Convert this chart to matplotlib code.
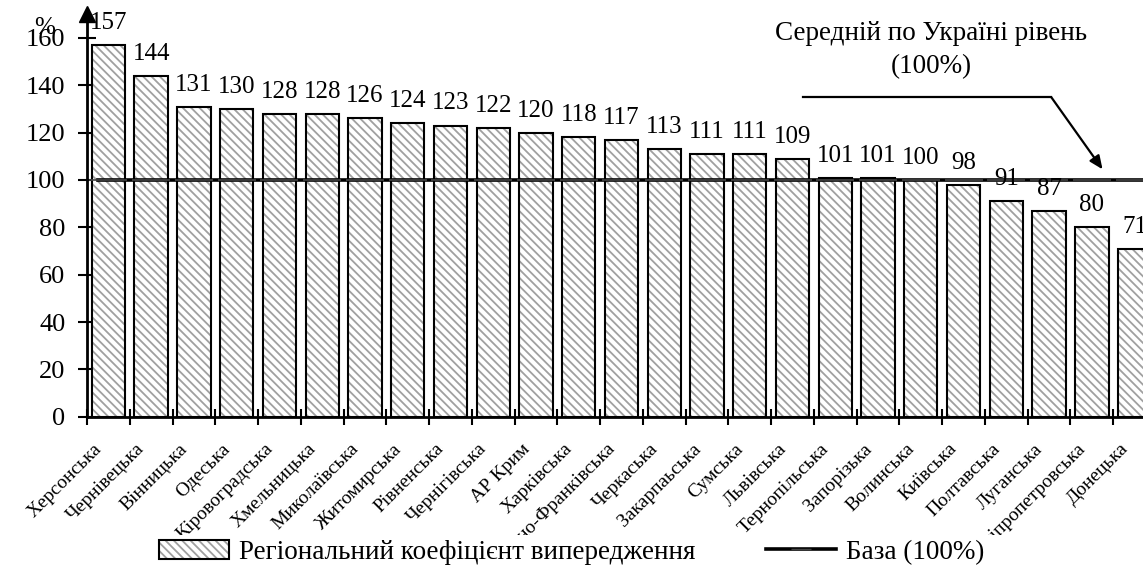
import numpy as np
import matplotlib
matplotlib.use("Agg")
import matplotlib.pyplot as plt
import matplotlib.transforms as mtransforms
from matplotlib.lines import Line2D

plt.rcParams["font.family"] = ["Liberation Serif", "DejaVu Serif"]
plt.rcParams["hatch.linewidth"] = 1.3

regions = ["Херсонська", "Чернівецька", "Вінницька", "Одеська", "Кіровоградська",
           "Хмельницька", "Миколаївська", "Житомирська", "Рівненська", "Чернігівська",
           "АР Крим", "Харківська", "Івано-Франківська", "Черкаська", "Закарпаьська",
           "Сумська", "Львівська", "Тернопільська", "Запорізька", "Волинська",
           "Київська", "Полтавська", "Луганська", "Дніпропетровська", "Донецька"]
coef = [157, 144, 131, 130, 128, 128, 126, 124, 123, 122, 120, 118, 117, 113, 111,
        111, 109, 101, 101, 100, 98, 91, 87, 80, 71]
base_level = 100
yticks = [0, 20, 40, 60, 80, 100, 120, 140, 160]

n = len(coef)
x = np.arange(n)

fig = plt.figure(figsize=(11.43, 5.72), dpi=100)
# plot area runs past the right edge, as in the source picture
ax = fig.add_axes([87 / 1143, 155.3 / 572, 1069 / 1143, 0.7035])

# hatched fill first, then black outline
b1 = ax.bar(x, coef, width=0.78, color="white", edgecolor="#a0a0a0",
            hatch="\\\\\\\\", linewidth=0, zorder=2)
b2 = ax.bar(x, coef, width=0.78, fill=False, edgecolor="black",
            linewidth=1.5, zorder=3)

xb = np.r_[-0.25, x, n - 0.5]
ax.plot(xb, [base_level] * len(xb), color="black", lw=2.6, zorder=4)
ax.plot(x, [base_level] * n, ls="none", marker="_", ms=28, mew=1.2,
        mec="#444444", zorder=5)

for xi, v in zip(x, coef):
    ax.annotate(str(v), (xi, v), xytext=(0, 8), textcoords="offset points",
                ha="center", va="bottom", fontsize=18, zorder=6,
                annotation_clip=False)

ax.set_xlim(-0.5, n - 0.5)
ax.set_ylim(0, 170)
ax.set_yticks(yticks)
ax.tick_params(axis="y", direction="inout", length=13, width=1.5,
               labelsize=19, pad=9)

ax.set_xticks(x)
ax.set_xticklabels(regions, rotation=45, ha="right", rotation_mode="anchor",
                   fontsize=14)
ax.tick_params(axis="x", length=0, pad=17)
ax.set_xticks(np.arange(n + 1) - 0.5, minor=True)
ax.tick_params(axis="x", which="minor", direction="inout", length=12, width=1.5)

clip = mtransforms.TransformedBbox(
    mtransforms.Bbox([[0, 37 / 572], [1, 1]]), fig.transFigure)
shift = mtransforms.ScaledTranslation(-0.15, 0, fig.dpi_scale_trans)
for lbl in ax.get_xticklabels():
    lbl.set_transform(lbl.get_transform() + shift)
    lbl.set_clip_box(clip)
    lbl.set_clip_on(True)

for s in ["top", "right"]:
    ax.spines[s].set_visible(False)
ax.spines["left"].set_linewidth(2)
ax.spines["bottom"].set_linewidth(2)
ax.plot([-0.5], [170], marker="^", ms=11, color="black", clip_on=False, zorder=7)

fig.text(34 / 1143, 1 - 28 / 572, "%", fontsize=18, va="center", ha="left")

ax.text(19.25, 162, "Середній по Україні рівень", ha="center", va="center",
        fontsize=19.5)
ax.text(19.25, 148, "(100%)", ha="center", va="center", fontsize=19.5)
ax.plot([16.25, 22.05], [135, 135], color="black", lw=1.6, zorder=6)
ax.annotate("", xy=(23.25, 104.5), xytext=(22.05, 135),
            arrowprops=dict(arrowstyle="-|>,head_length=0.8,head_width=0.35",
                            color="black", lw=1.6, shrinkA=0, shrinkB=0),
            zorder=6)

line_handle = Line2D([], [], color="black", lw=2.6, marker="_", ms=14,
                     mec="#444444")
fig.legend([(b1, b2), line_handle],
           ["Регіональний коефіцієнт випередження", "База (100%)"],
           loc="lower center", bbox_to_anchor=(0.5, -0.03), ncol=2,
           frameon=False, fontsize=19.5, handlelength=2.6, handleheight=0.7,
           handletextpad=0.35, columnspacing=2.6)

fig.savefig("out.png", dpi=100)
